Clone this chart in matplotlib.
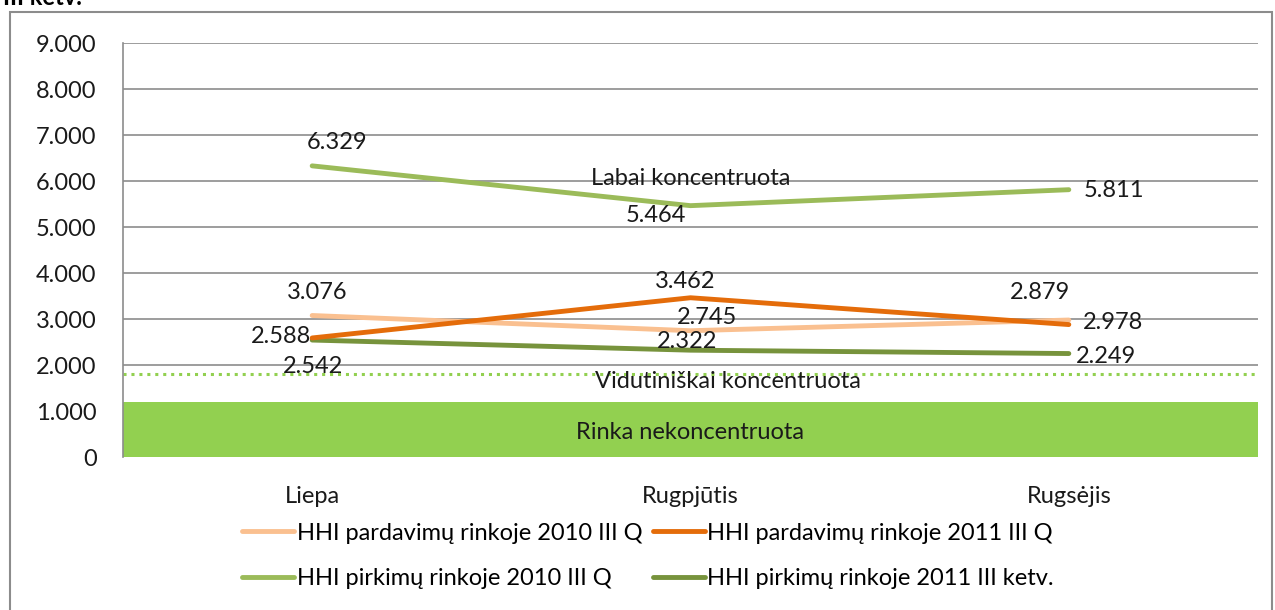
import matplotlib
matplotlib.use('Agg')
import matplotlib.pyplot as plt
from matplotlib.patches import Rectangle
from matplotlib.ticker import FuncFormatter

# duomenys
menesiai = ['Liepa', 'Rugpjūtis', 'Rugsėjis']
pard_2010 = [3076, 2745, 2978]
pard_2011 = [2588, 3462, 2879]
pirk_2010 = [6329, 5464, 5811]
pirk_2011 = [2542, 2322, 2249]
ribos = [1200, 1800]  # nekoncentruota juosta, vidutiniškai koncentruota riba

plt.rcParams['font.family'] = ['Lato', 'DejaVu Sans']
fs = 17

fig = plt.figure(figsize=(12.75, 6.1), dpi=100)
ax = fig.add_axes([123/1275, 1-457/610, (1258-123)/1275, (457-43)/610])

x = [0, 1, 2]
ax.set_xlim(-0.5, 2.5)
ax.set_ylim(0, 9000)

# tinklelis
for v in range(1000, 9001, 1000):
    ax.axhline(v, color='#8c8c8c', lw=1.2, zorder=1)

# juosta ir riba
ax.axhspan(0, ribos[0], color='#92d050', zorder=2, lw=0)
ax.axhline(ribos[1], color='#92d050', lw=2.2, ls=(0, (1, 1.6)), zorder=2)

ax.text(1, 540, 'Rinka nekoncentruota', ha='center', va='center', fontsize=fs, color='#1a1a1a', zorder=6)
ax.text(1.1, 1650, 'Vidutiniškai koncentruota', ha='center', va='center', fontsize=fs, color='#1a1a1a', zorder=6)
ax.text(1.0, 6050, 'Labai koncentruota', ha='center', va='center', fontsize=fs, color='#1a1a1a', zorder=6)

l1, = ax.plot(x, pard_2010, color='#fac090', lw=3.5, solid_capstyle='round', zorder=4, label='HHI pardavimų rinkoje 2010 III Q')
l2, = ax.plot(x, pard_2011, color='#e46c0a', lw=3.5, solid_capstyle='round', zorder=5, label='HHI pardavimų rinkoje 2011 III Q')
l3, = ax.plot(x, pirk_2010, color='#9bbb59', lw=3.5, solid_capstyle='round', zorder=4, label='HHI pirkimų rinkoje 2010 III Q')
l4, = ax.plot(x, pirk_2011, color='#77933c', lw=3.5, solid_capstyle='round', zorder=4, label='HHI pirkimų rinkoje 2011 III ketv.')

def fmt(v):
    return '{:,}'.format(v).replace(',', '.')

# reikšmių etiketės (poslinkis pikseliais)
poslinkiai = {
    'pirk_2010': [(25, 23), (-35, -10), (45, -1)],
    'pard_2010': [(5, 23), (17, 13), (44, -2)],
    'pard_2011': [(-31, 1), (-5, 16), (-29, 32)],
    'pirk_2011': [(1, -26), (-3, 9), (37, -3)],
}
for nm, ser in [('pirk_2010', pirk_2010), ('pard_2010', pard_2010), ('pard_2011', pard_2011), ('pirk_2011', pirk_2011)]:
    for i, v in enumerate(ser):
        dx, dy = poslinkiai[nm][i]
        ax.annotate(fmt(v), (x[i], v), xytext=(dx*0.72, dy*0.72), textcoords='offset points',
                    ha='center', va='center', fontsize=fs, color='#1a1a1a', zorder=7)

ax.set_xticks(x)
ax.set_xticklabels(menesiai, fontsize=fs, color='#1a1a1a')
ax.set_yticks(range(0, 9001, 1000))
ax.yaxis.set_major_formatter(FuncFormatter(lambda v, p: fmt(int(v))))
ax.tick_params(axis='y', labelsize=fs, colors='#1a1a1a', length=0, pad=19)
ax.tick_params(axis='x', length=0, pad=21)
for s in ['top', 'right', 'bottom']:
    ax.spines[s].set_visible(False)
ax.spines['left'].set_color('#8c8c8c')
ax.spines['left'].set_linewidth(1.2)

fig.legend([l1, l3, l2, l4], [l1.get_label(), l3.get_label(), l2.get_label(), l4.get_label()],
           ncol=2, loc='center', bbox_to_anchor=(648/1275, 1-556/610), frameon=False,
           fontsize=fs, handlelength=2.2, handletextpad=0.1, columnspacing=0.45, labelspacing=1.05)

# rėmelis
fig.patches.append(Rectangle((10/1275, -0.05), (1272-10)/1275, 1.05-12/610, transform=fig.transFigure,
                             fill=False, edgecolor='#8c8c8c', lw=1.5))
fig.text(0.002, 1-5/610, 'III ketv.', fontsize=17, fontweight='bold', ha='left', va='baseline')

fig.savefig('out.png', dpi=100)
